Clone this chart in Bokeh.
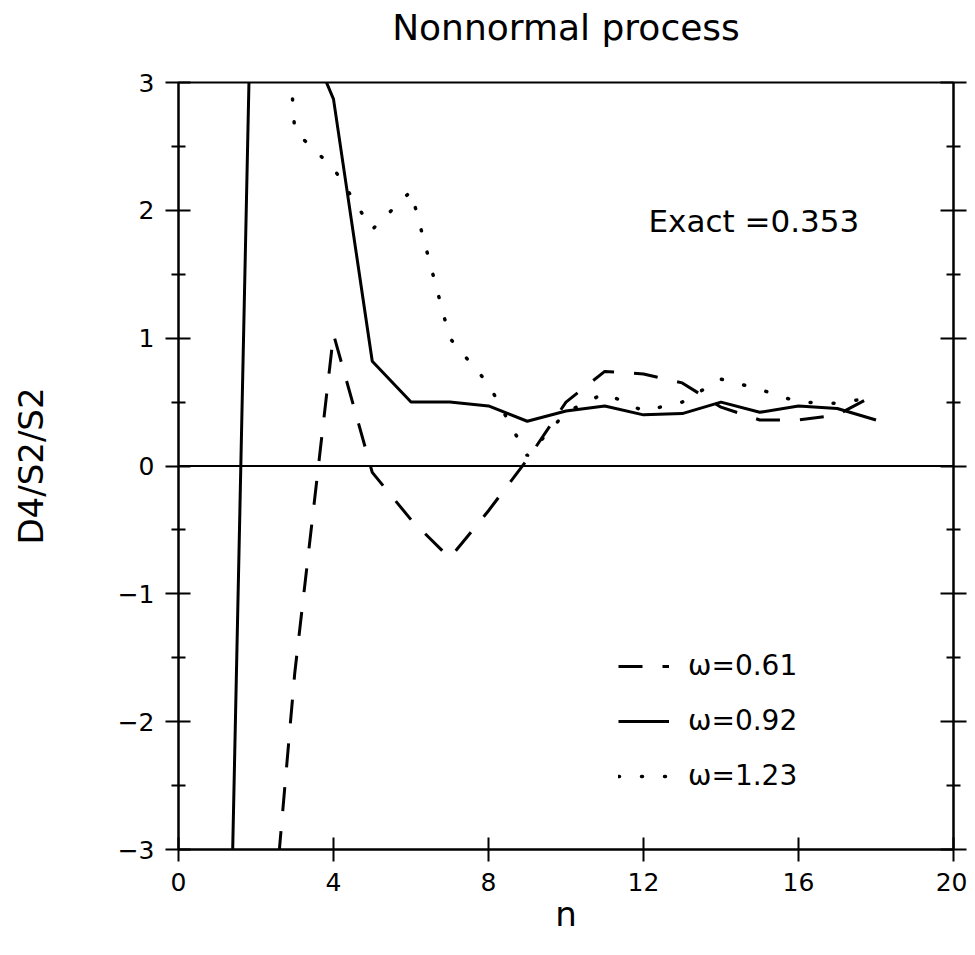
from bokeh.plotting import figure
from bokeh.models import (LinearAxis, FixedTicker, Span, Label, Legend,
                          LegendItem, Range1d, Title)
from bokeh.embed import file_html
from bokeh.resources import INLINE

# ---- data ----
n_061 = [2, 3, 4, 5, 6, 7, 8, 9, 10, 11, 12, 13, 14, 15, 16, 17, 18]
d_061 = [-5.1, -1.62, 1.03, -0.05, -0.42, -0.72, -0.35, 0.05, 0.50, 0.74,
         0.72, 0.65, 0.46, 0.36, 0.36, 0.40, 0.56]

n_092 = [1, 2, 3, 4, 5, 6, 7, 8, 9, 10, 11, 12, 13, 14, 15, 16, 17, 18]
d_092 = [-8.7, 5.6, 3.59, 2.87, 0.82, 0.50, 0.50, 0.47, 0.35, 0.43, 0.47,
         0.40, 0.41, 0.50, 0.42, 0.47, 0.45, 0.36]

n_123 = [2, 3, 4, 5, 6, 7, 8, 9, 10, 11, 12, 13, 14, 15, 16, 17, 18]
d_123 = [7.0, 2.62, 2.33, 1.85, 2.15, 1.00, 0.64, 0.08, 0.42, 0.57, 0.43,
         0.50, 0.68, 0.60, 0.50, 0.49, 0.54]

labels = ["\u03c9=0.61", "\u03c9=0.92", "\u03c9=1.23"]
x_ticks = [0, 4, 8, 12, 16, 20]
y_ticks = [-3, -2, -1, 0, 1, 2, 3]
y_minor = [-2.5, -1.5, -0.5, 0.5, 1.5, 2.5]
title_text = "Nonnormal process"
x_label = "n"
y_label = "D4/S2/S2"
exact_text = "Exact =0.353"

FONT = "DejaVu Sans"

p = figure(width=967, height=947, x_range=Range1d(0, 20), y_range=Range1d(-3, 3),
           output_backend="svg", toolbar_location=None, title=None,
           x_axis_location=None, y_axis_location=None,
           min_border_left=178, min_border_right=14,
           min_border_top=82, min_border_bottom=98)
p.grid.visible = False
p.outline_line_color = "black"
p.outline_line_width = 2
p.background_fill_color = "white"
p.border_fill_color = "white"

# spacer title (closest to the frame) pushes the real title upward
p.add_layout(Title(text=" ", text_font=FONT, text_font_size="28px", standoff=0), "above")
p.add_layout(Title(text=title_text, align="center", text_font=FONT,
                   text_font_size="36px", text_font_style="normal",
                   text_color="black", standoff=0), "above")

def style_axis(ax):
    ax.axis_line_width = 2
    ax.major_tick_line_width = 2
    ax.minor_tick_line_width = 2
    ax.major_label_text_font = FONT
    ax.major_label_text_font_size = "25px"
    ax.major_label_text_color = "black"
    ax.axis_label_text_font = FONT
    ax.axis_label_text_font_style = "normal"
    ax.axis_label_text_font_size = "34px"
    ax.axis_label_text_color = "black"

minus = lambda v: ("\u2212" + str(abs(v))) if v < 0 else str(v)

# bottom axis
xb = LinearAxis(ticker=FixedTicker(ticks=x_ticks))
style_axis(xb)
xb.major_tick_out = 12
xb.major_tick_in = 12
xb.minor_tick_out = 0
xb.minor_tick_in = 0
xb.major_label_standoff = 11
xb.axis_label = x_label
xb.axis_label_standoff = 0
p.add_layout(xb, "below")

# left axis
yl = LinearAxis(ticker=FixedTicker(ticks=y_ticks, minor_ticks=y_minor))
style_axis(yl)
yl.major_tick_out = 13
yl.major_tick_in = 12
yl.minor_tick_out = 7
yl.minor_tick_in = 7
yl.major_label_standoff = 11
yl.major_label_overrides = {v: minus(v) for v in y_ticks}
yl.axis_label = y_label
yl.axis_label_standoff = 64
p.add_layout(yl, "left")

# right axis (ticks only)
yr = LinearAxis(ticker=FixedTicker(ticks=y_ticks, minor_ticks=y_minor))
style_axis(yr)
yr.major_tick_out = 13
yr.major_tick_in = 13
yr.minor_tick_out = 7
yr.minor_tick_in = 7
yr.major_label_standoff = 0
yr.major_label_overrides = {v: "" for v in y_ticks}
p.add_layout(yr, "right")

# zero line
p.add_layout(Span(location=0, dimension="width", line_color="black", line_width=2))

r1 = p.line(n_061, d_061, line_color="black", line_width=3, line_dash="24 20")
r2 = p.line(n_092, d_092, line_color="black", line_width=3)
r3 = p.line(n_123, d_123, line_color="black", line_width=3.5, line_dash="1 22",
            line_cap="round")

p.add_layout(Label(x=12.13, y=1.92, text=exact_text, text_font=FONT,
                   text_font_size="31px", text_baseline="middle", text_align="left",
                   text_color="black"))

legend = Legend(items=[LegendItem(label=labels[0], renderers=[r1]),
                       LegendItem(label=labels[1], renderers=[r2]),
                       LegendItem(label=labels[2], renderers=[r3])],
                location=(440, 57), border_line_color=None,
                background_fill_alpha=0, glyph_width=51, glyph_height=30,
                label_height=30, spacing=22, padding=0, margin=0,
                label_standoff=19, label_text_font=FONT,
                label_text_font_size="28px", label_text_color="black")
p.add_layout(legend)

open("out.html", "w").write(file_html(p, INLINE))
